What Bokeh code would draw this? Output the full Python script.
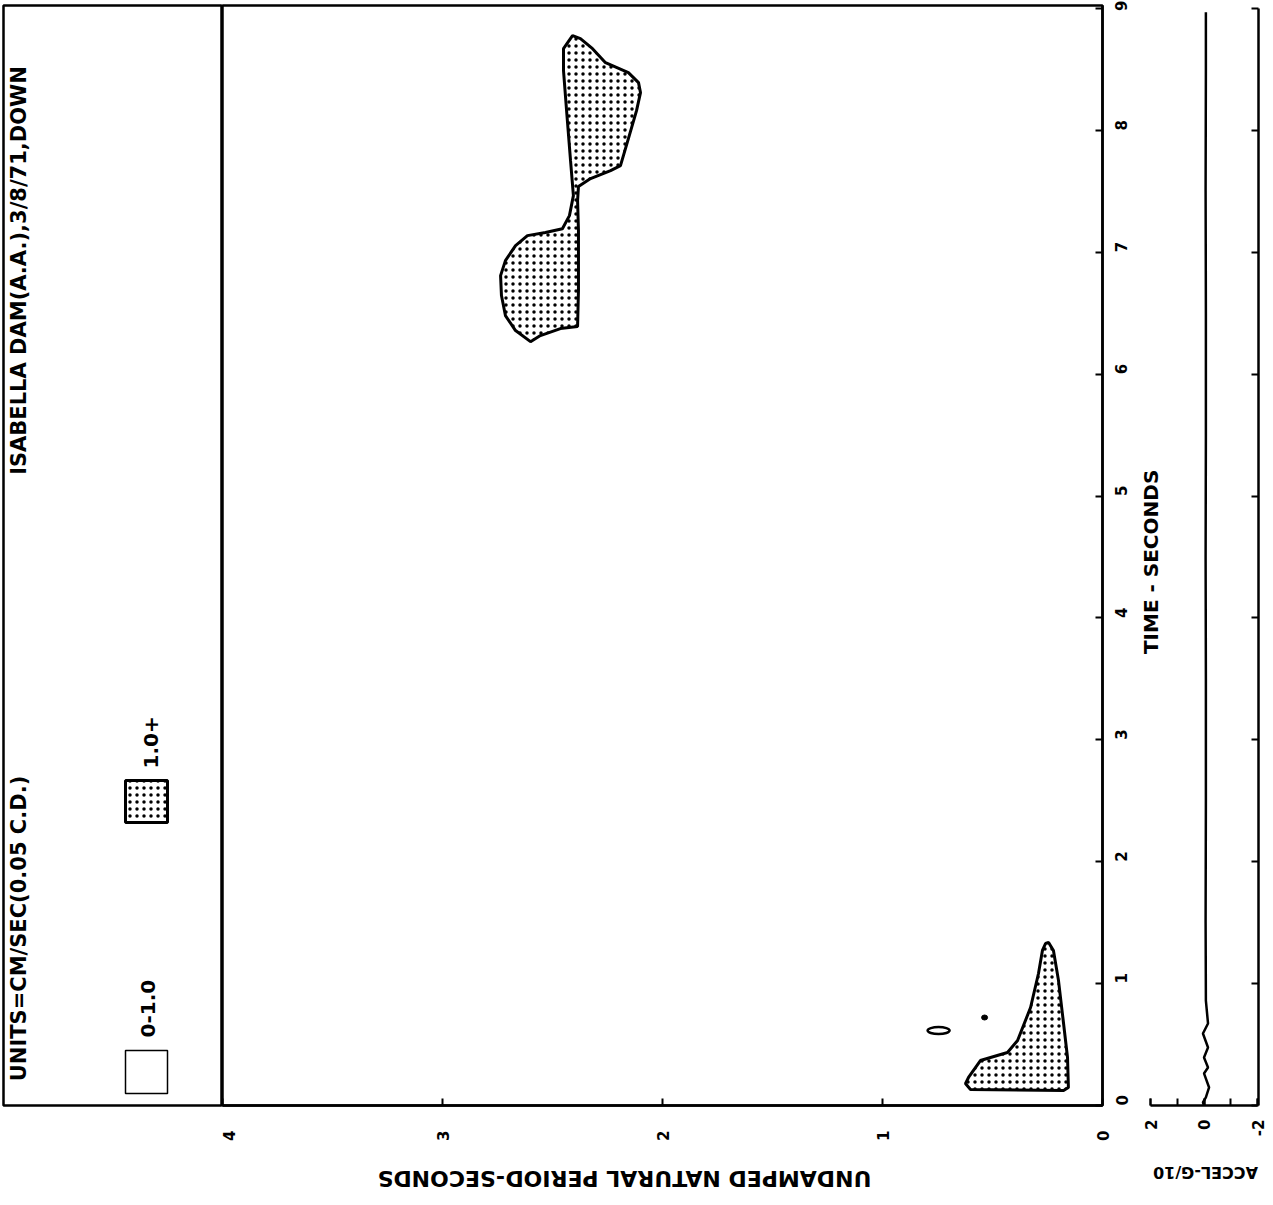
import math
from bokeh.plotting import figure
from bokeh.layouts import row, column
from bokeh.models import Range1d, FixedTicker, Label, LinearAxis
from bokeh.core.properties import value
from bokeh.embed import file_html
from bokeh.resources import INLINE

# ---------------- data ----------------
period_ticks = [0, 1, 2, 3, 4]
time_ticks = [0, 1, 2, 3, 4, 5, 6, 7, 8, 9]
accel_ticks = [2, 0, -2]
accel_minor = [2, 1, 0, -1, -2]

# upper stippled contour (>1.0), period [s], time [s]
upper_period = [2.409, 2.373, 2.318, 2.259, 2.155, 2.109, 2.100, 2.118, 2.155, 2.191,
                2.236, 2.327, 2.382, 2.386, 2.382, 2.382, 2.386, 2.464, 2.555, 2.600,
                2.668, 2.714, 2.732, 2.736, 2.714, 2.668, 2.614, 2.532, 2.455, 2.423,
                2.405, 2.418, 2.436, 2.450, 2.450]
upper_time = [8.778, 8.753, 8.671, 8.556, 8.474, 8.392, 8.310, 8.162, 7.933, 7.711,
              7.670, 7.605, 7.539, 7.424, 7.178, 6.686, 6.391, 6.374, 6.317, 6.267,
              6.358, 6.481, 6.645, 6.809, 6.932, 7.055, 7.137, 7.162, 7.194, 7.301,
              7.465, 7.752, 8.162, 8.491, 8.671]

# lower stippled contour (>1.0)
lower_period = [0.245, 0.223, 0.200, 0.177, 0.159, 0.155, 0.177, 0.600, 0.623, 0.609,
                0.555, 0.509, 0.432, 0.386, 0.327, 0.291, 0.273, 0.259]
lower_time = [1.337, 1.272, 1.025, 0.673, 0.394, 0.148, 0.123, 0.131, 0.180, 0.230,
              0.369, 0.394, 0.435, 0.533, 0.804, 1.083, 1.272, 1.329]

# small isolated contours
ring_period = [0.745]
ring_time = [0.615]
speck_period = [0.536]
speck_time = [0.722]

# acceleration trace (G/10) vs time
accel_time = [0.0, 0.025, 0.066, 0.148, 0.263, 0.312, 0.394, 0.476, 0.591, 0.673,
              0.86, 1.5, 2.5, 3.5, 4.5, 5.5, 6.5, 7.5, 8.5, 8.97]
accel_value = [0.0, 0.04, -0.07, -0.19, 0.0, -0.15, 0.0, -0.15, 0.04, -0.15,
               -0.07, -0.06, -0.07, -0.07, -0.06, -0.07, -0.07, -0.06, -0.07, -0.07]

legend_labels = ["0-1.0", "1.0+"]
title_text = "ISABELLA DAM(A.A.),3/8/71,DOWN"
units_text = "UNITS=CM/SEC(0.05 C.D.)"
period_title = "UNDAMPED NATURAL PERIOD-SECONDS"
time_title = "TIME - SECONDS"
accel_title = "ACCEL-G/10"

FONT = "DejaVu Sans"
LW = 2.5
HATCH = dict(hatch_pattern=".", hatch_color="black", hatch_scale=7, hatch_weight=2)
TOP_H = 1155

time_range = Range1d(0, 9.025)


def base_fig(width, x_range, y_range, left, right, height=TOP_H, top=5, bottom=50):
    f = figure(width=width, height=height, x_range=x_range, y_range=y_range,
               output_backend="svg", toolbar_location=None,
               x_axis_location=None, y_axis_location=None,
               min_border_left=left, min_border_right=right,
               min_border_top=top, min_border_bottom=bottom)
    f.grid.visible = False
    f.background_fill_color = "white"
    f.border_fill_color = "white"
    return f


def style_axis(ax, standoff, size="15px"):
    ax.axis_line_width = LW
    ax.axis_line_color = "black"
    ax.major_tick_in = 7
    ax.major_tick_out = 0
    ax.major_tick_line_width = 2
    ax.minor_tick_in = 0
    ax.minor_tick_out = 0
    ax.major_label_orientation = math.pi / 2
    ax.major_label_standoff = standoff
    ax.major_label_text_font = FONT
    ax.major_label_text_font_style = "bold"
    ax.major_label_text_font_size = size
    ax.major_label_text_color = "black"


# ---------------- legend / caption panel ----------------
lp = base_fig(222, Range1d(0, 219), Range1d(0, 1100), 3, 0)
lp.outline_line_color = "black"
lp.outline_line_width = LW
lp.text(x=[15], y=[835], text=[title_text], angle=math.pi / 2,
        text_align="center", text_baseline="middle", text_font=value(FONT),
        text_font_style="bold", text_font_size="21px", text_color="black")
lp.text(x=[15], y=[177], text=[units_text], angle=math.pi / 2,
        text_align="center", text_baseline="middle", text_font=value(FONT),
        text_font_style="bold", text_font_size="21px", text_color="black")
lp.rect(x=[143], y=[33.5], width=42, height=43, fill_color="white",
        line_color="black", line_width=1.5)
lp.rect(x=[143], y=[304], width=42, height=42, fill_color="white",
        line_color="black", line_width=3, **HATCH)
lp.text(x=[144, 147], y=[68, 337], text=legend_labels, angle=math.pi / 2,
        text_align="left", text_baseline="middle", text_font=value(FONT),
        text_font_style="bold", text_font_size="20px", text_color="black")

# ---------------- main contour plot ----------------
mp = base_fig(918, Range1d(4, 0), time_range, 0, 38)
mp.outline_line_color = "black"
mp.outline_line_width = LW

xa = LinearAxis(ticker=FixedTicker(ticks=period_ticks))
style_axis(xa, 25)
mp.add_layout(xa, "below")

ya = LinearAxis(ticker=FixedTicker(ticks=time_ticks))
style_axis(ya, 19)
mp.add_layout(ya, "right")

mp.patch(upper_period, upper_time, fill_color="white", line_color="black",
         line_width=3, **HATCH)
mp.patch(lower_period, lower_time, fill_color="white", line_color="black",
         line_width=3, **HATCH)
mp.ellipse(ring_period, ring_time, width=22, height=7, width_units="screen",
           height_units="screen", fill_color=None, line_color="black", line_width=2.5)
mp.ellipse(speck_period, speck_time, width=6, height=5, width_units="screen",
           height_units="screen", fill_color="black", line_color="black", line_width=1)

# ---------------- acceleration strip ----------------
ap = base_fig(133, Range1d(2.374, -2.037), time_range, 0, 15)
ap.outline_line_color = None

ba = LinearAxis(ticker=FixedTicker(ticks=accel_ticks, minor_ticks=accel_minor),
                bounds=(-2, 2), major_label_overrides={-2: "-2", 0: "0", 2: "2"})
style_axis(ba, 14)
ba.minor_tick_in = 7
ba.minor_tick_line_width = 2
ba.minor_tick_line_color = "black"
ap.add_layout(ba, "below")

ra = LinearAxis(ticker=FixedTicker(ticks=time_ticks), bounds=(0, 9))
style_axis(ra, 0)
ra.major_label_text_color = None
ap.add_layout(ra, "right")

ap.line(accel_value, accel_time, line_color="black", line_width=2.5)

ap.add_layout(Label(x=2.0, y=4.46, text=time_title, angle=math.pi / 2,
                    text_align="center", text_baseline="middle", text_font=FONT,
                    text_font_style="bold", text_font_size="20px", text_color="black"))

# ---------------- strip of upside-down axis titles ----------------
bf = base_fig(1273, Range1d(0, 1273), Range1d(0, 50), 0, 0, height=50, top=0, bottom=0)
bf.outline_line_color = None
bf.text(x=[624], y=[27], text=[period_title], angle=math.pi,
        text_align="center", text_baseline="middle", text_font=value(FONT),
        text_font_style="bold", text_font_size="22px", text_color="black")
bf.text(x=[1205], y=[33], text=[accel_title], angle=math.pi,
        text_align="center", text_baseline="middle", text_font=value(FONT),
        text_font_style="bold", text_font_size="16px", text_color="black")

layout = column(row(lp, mp, ap, spacing=0), bf, spacing=0)
open("out.html", "w").write(file_html(layout, INLINE))
